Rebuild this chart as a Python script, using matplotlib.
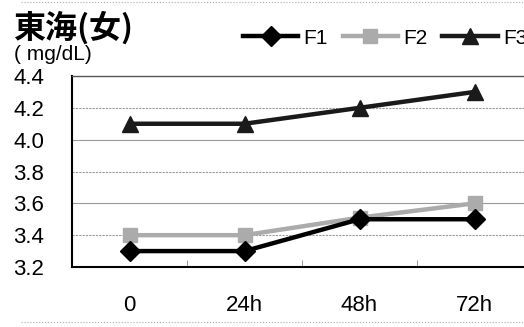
import numpy as np
import matplotlib
matplotlib.use("Agg")
import matplotlib.pyplot as plt
from matplotlib.lines import Line2D

categories = ["0", "24h", "48h", "72h"]
f1 = [3.3, 3.3, 3.5, 3.5]
f2 = [3.4, 3.4, 3.51, 3.6]
f3 = [4.1, 4.1, 4.2, 4.3]
yticks = [3.2, 3.4, 3.6, 3.8, 4.0, 4.2, 4.4]

plt.rcParams['font.family'] = ['Liberation Sans Narrow', 'Liberation Sans', 'Noto Sans CJK JP', 'DejaVu Sans']

fig = plt.figure(figsize=(5.24, 3.27), dpi=100)
ax = fig.add_axes([72 / 524, 1 - 267 / 327, 460 / 524, 191 / 327])

x = np.arange(len(categories))
ax.plot(x, f1, color="black", lw=3.2, marker="D", ms=10, zorder=4, label="F1")
ax.plot(x, f2, color="#ababab", lw=3.2, marker="s", ms=10, zorder=3, label="F2")
ax.plot(x, f3, color="#1a1a1a", lw=3.2, marker="^", ms=12, zorder=3, label="F3")

ax.set_xlim(-0.5, 3.5)
ax.set_ylim(3.2, 4.4)
ax.set_yticks(yticks)
ax.set_yticklabels([f"{v:.1f}" for v in yticks], fontsize=16)
ax.set_xticks(x)
ax.set_xticklabels(categories, fontsize=16)
ax.tick_params(axis="y", length=0, pad=20)
ax.tick_params(axis="x", length=0, pad=20)
ax.set_xticks(np.arange(0.5, 3.5, 1), minor=True)
ax.tick_params(axis="x", which="minor", direction="in", length=5, color="#888888")
for v in yticks[1:-1]:
    ax.axhline(v, color="#999999", lw=0.8, ls=(0, (2, 1)) if v in (3.4, 3.8, 4.2) else "-", zorder=1)
for s in ["left", "bottom"]:
    ax.spines[s].set_linewidth(1.5)
ax.spines["top"].set_color("#555555")
ax.spines["top"].set_linewidth(1.0)
ax.spines["right"].set_visible(False)

fig.text(13 / 524, 1 - 28 / 327, "東海(女)", fontsize=23, fontweight="bold",
         family=["Noto Sans CJK JP"], va="center")
fig.text(14 / 524, 1 - 54 / 327, "( mg/dL)", fontsize=15, va="center",
         family=["Liberation Sans", "DejaVu Sans"])

handles = [
    Line2D([], [], color="black", lw=3.2, marker="D", ms=10),
    Line2D([], [], color="#ababab", lw=3.2, marker="s", ms=10),
    Line2D([], [], color="#1a1a1a", lw=3.2, marker="^", ms=12),
]
fig.legend(handles, ["F1", "F2", "F3"], loc="center left", bbox_to_anchor=(243 / 524, 1 - 38 / 327),
           ncol=3, frameon=False, fontsize=15, handlelength=2.65, handletextpad=0.25,
           columnspacing=0.72, borderpad=0, borderaxespad=0)

fig.add_artist(Line2D([0.04, 1], [1 - 322 / 327] * 2, color="#aaaaaa", lw=0.8, ls=":"))
fig.add_artist(Line2D([0.04, 1], [1 - 2 / 327] * 2, color="#aaaaaa", lw=0.8, ls=":"))

fig.savefig("out.png", dpi=100)
